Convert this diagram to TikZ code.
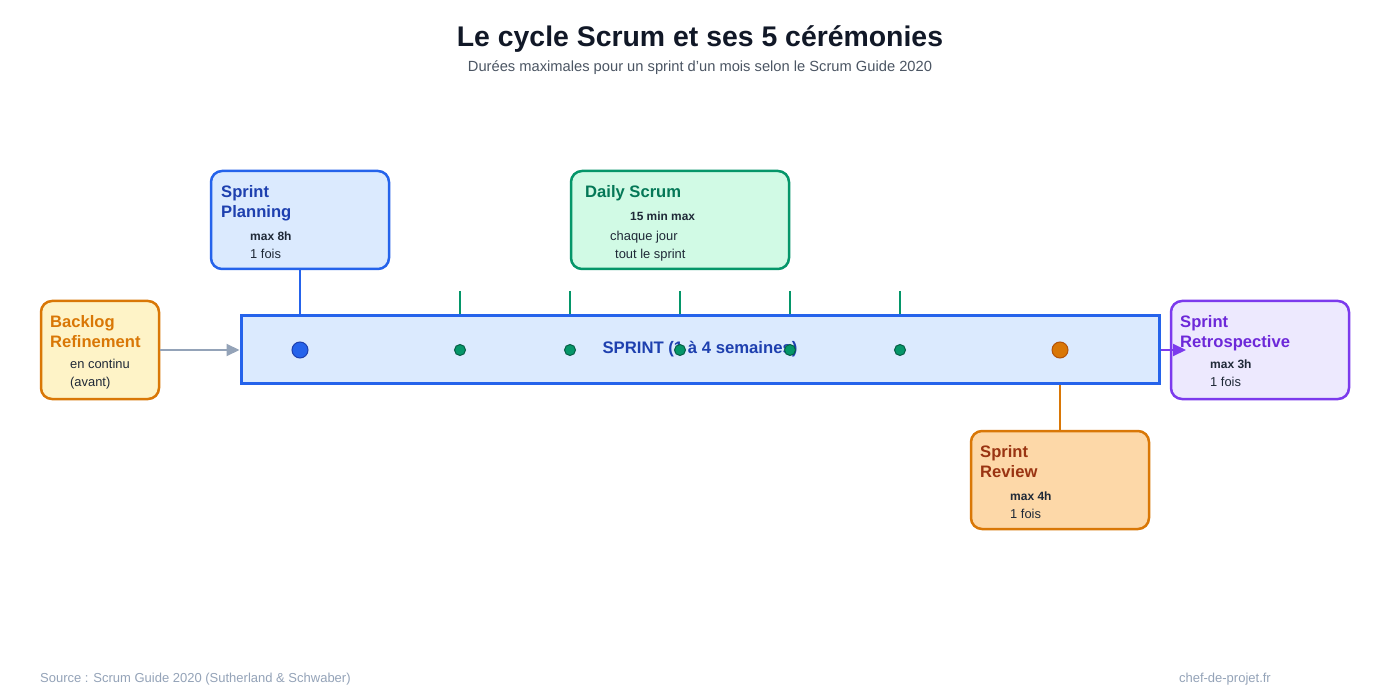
\documentclass[tikz,border=0pt]{standalone}
\usepackage{fontspec}
\setmainfont{Liberation Sans}
\usetikzlibrary{arrows.meta}
\definecolor{cTitle}{HTML}{111827}
\definecolor{cSub}{HTML}{4B5563}
\definecolor{cFoot}{HTML}{94A3B8}
\definecolor{cBlue}{HTML}{2563EB}
\definecolor{cBlueD}{HTML}{1E40AF}
\definecolor{cBlueF}{HTML}{DBEAFE}
\definecolor{cGreen}{HTML}{059669}
\definecolor{cGreenD}{HTML}{047857}
\definecolor{cGreenS}{HTML}{065F46}
\definecolor{cGreenF}{HTML}{D1FAE5}
\definecolor{cOrange}{HTML}{D97706}
\definecolor{cOrangeS}{HTML}{B45309}
\definecolor{cYellowF}{HTML}{FEF3C7}
\definecolor{cPeachF}{HTML}{FDD8A8}
\definecolor{cRust}{HTML}{9A3412}
\definecolor{cPurple}{HTML}{7C3AED}
\definecolor{cPurpleD}{HTML}{6D28D9}
\definecolor{cPurpleF}{HTML}{EDE9FE}
\definecolor{cText}{HTML}{1F2937}
\begin{document}
\begin{tikzpicture}[x=1pt,y=-1pt,
  cbox/.style={draw, line width=2.5pt, rounded corners=11pt, minimum width=#1, minimum height=98pt, inner sep=0pt},
  cbox/.default=178pt,
  ctitle/.style={anchor=mid west, inner sep=0pt, yshift=-2pt, font=\fontsize{16.6}{19}\selectfont\bfseries},
  cbold/.style={anchor=mid west, inner sep=0pt, yshift=-2.5pt, text=cText, font=\fontsize{12}{14}\selectfont\bfseries},
  cnorm/.style={anchor=mid west, inner sep=0pt, yshift=-2pt, text=cText, font=\fontsize{12.9}{15}\selectfont},
  tick/.style={draw=cGreen, line width=2pt},
  gdot/.style={circle, draw=cGreenS, fill=cGreen, line width=1pt, minimum size=11pt, inner sep=0pt},
  bdot/.style={circle, draw=cBlueD, fill=cBlue, line width=1pt, minimum size=16pt, inner sep=0pt},
  odot/.style={circle, draw=cOrangeS, fill=cOrange, line width=1pt, minimum size=16pt, inner sep=0pt},
  foot/.style={inner sep=0pt, text=cFoot, font=\fontsize{13}{15}\selectfont}
]
\useasboundingbox[fill=white] (0,0) rectangle (1400,700);

% title
\node[inner sep=0pt, text=cTitle, font=\fontsize{28.4}{32}\selectfont\bfseries] (title) at (700,39) {Le cycle Scrum et ses 5 cérémonies};
\node[inner sep=0pt, text=cSub, font=\fontsize{14.7}{17}\selectfont] (subtitle) at (700,68) {Durées maximales pour un sprint d'un mois selon le Scrum Guide 2020};

% sprint bar
\node[draw=cBlue, fill=cBlueF, line width=3pt, minimum width=918pt, minimum height=68pt, inner sep=0pt] (bar) at (700,350) {};
\node[inner sep=0pt, text=cBlueD, font=\fontsize{16.7}{19}\selectfont\bfseries] (bartext) at (700,349) {SPRINT (1 à 4 semaines)};

% daily ticks
\foreach \x/\n in {460/1,570/2,680/3,790/4,900/5}{
  \coordinate (t\n) at (\x,291);
  \draw[tick] (t\n) -- (t\n |- bar.north);
}

% dots
\node[bdot] (dplan) at (300,350) {};
\foreach \x/\n in {460/1,570/2,680/3,790/4,900/5}{
  \node[gdot] (g\n) at (\x,350) {};
}
\node[odot] (drev) at (1060,350) {};

% Sprint Planning
\node[cbox, draw=cBlue, fill=cBlueF] (plan) at (300,220) {};
\node[ctitle, text=cBlueD] (planA) at (221,193) {Sprint};
\node[ctitle, text=cBlueD] (planB) at (221,213) {Planning};
\node[cbold] (planC) at (250,235) {max 8h};
\node[cnorm] (planD) at (250,254) {1 fois};
\draw[draw=cBlue, line width=2pt] (plan.south) -- (plan.south |- bar.north);

% Daily Scrum
\node[cbox=218pt, draw=cGreen, fill=cGreenF] (daily) at (680,220) {};
\node[ctitle, text=cGreenD] (dailyA) at (585,193) {Daily Scrum};
\node[cbold, font=\fontsize{11.9}{13}\selectfont\bfseries] (dailyB) at (630,215) {15 min max};
\node[cnorm] (dailyC) at (610,236) {chaque jour};
\node[cnorm] (dailyD) at (615,254) {tout le sprint};

% Backlog Refinement
\node[cbox=118pt, draw=cOrange, fill=cYellowF] (back) at (100,350) {};
\node[ctitle, text=cOrange] (backA) at (50,323) {Backlog};
\node[ctitle, text=cOrange] (backB) at (50,343) {Refinement};
\node[cnorm] (backC) at (70,364) {en continu};
\node[cnorm] (backD) at (70,382) {(avant)};
\draw[draw=cFoot, line width=2pt, -{Triangle[length=13pt,width=12pt]}] (back.east) -- (bar.west);

% Sprint Retrospective
\node[cbox, draw=cPurple, fill=cPurpleF] (retro) at (1260,350) {};
\coordinate (retroTip) at (1186,350);
\draw[draw=cPurple, line width=2pt, -{Triangle[length=13pt,width=12pt]}] (bar.east) -- (retroTip);
\node[ctitle, text=cPurpleD] (retroA) at (1180,323) {Sprint};
\node[ctitle, text=cPurpleD] (retroB) at (1180,343) {Retrospective};
\node[cbold] (retroC) at (1210,363) {max 3h};
\node[cnorm] (retroD) at (1210,382) {1 fois};

% Sprint Review
\node[cbox, draw=cOrange, fill=cPeachF] (rev) at (1060,480) {};
\node[ctitle, text=cRust] (revA) at (980,453) {Sprint};
\node[ctitle, text=cRust] (revB) at (980,473) {Review};
\node[cbold] (revC) at (1010,495) {max 4h};
\node[cnorm] (revD) at (1010,514) {1 fois};
\draw[draw=cOrange, line width=2pt] (rev.north) -- (rev.north |- bar.south);

% footer
\node[foot, anchor=mid west] (src) at (40,680) {Source : Scrum Guide 2020 (Sutherland \& Schwaber)};
\node[foot, anchor=mid east] (site) at (1271,680) {chef-de-projet.fr};
\end{tikzpicture}
\end{document}
